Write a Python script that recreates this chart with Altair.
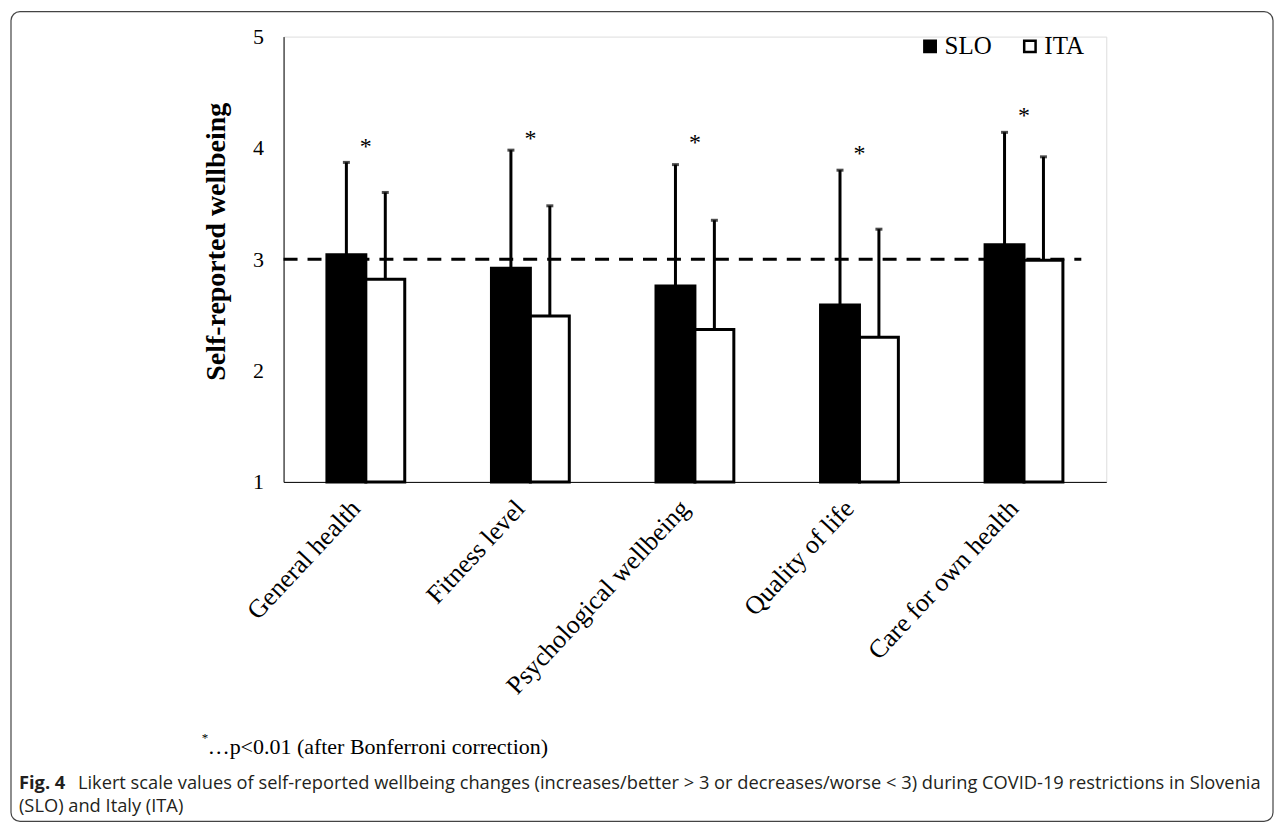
import altair as alt
import pandas as pd

categories = ["General health", "Fitness level", "Psychological wellbeing", "Quality of life", "Care for own health"]
countries = ["SLO", "ITA"]
slo_mean = [3.04, 2.92, 2.76, 2.59, 3.13]
slo_top = [3.87, 3.98, 3.85, 3.80, 4.14]
ita_mean = [2.82, 2.49, 2.37, 2.30, 2.99]
ita_top = [3.60, 3.48, 3.35, 3.27, 3.92]
star_pos = [4.06, 4.13, 4.10, 4.00, 4.34]
y_ticks = [1, 2, 3, 4, 5]

rows = []
for i, c in enumerate(categories):
    rows.append({"category": c, "country": "SLO", "value": slo_mean[i], "top": slo_top[i]})
    rows.append({"category": c, "country": "ITA", "value": ita_mean[i], "top": ita_top[i]})
df = pd.DataFrame(rows)
stars = pd.DataFrame({"category": categories, "star": star_pos, "label": ["*"] * 5})
one = pd.DataFrame({"k": [0]})

SERIF = "Liberation Serif, Times New Roman, serif"
SANS = "Open Sans, Noto Sans, sans-serif"

xscale = alt.Scale(domain=categories, paddingInner=0.527, paddingOuter=0.2635)
yscale = alt.Scale(domain=[1, 5], nice=False, zero=False)

x_enc = alt.X("category:N", scale=xscale, sort=categories,
              axis=alt.Axis(title=None, labelAngle=-47, labelFont=SERIF, labelFontSize=26,
                            labelColor="black", ticks=False, domainColor="black", domainWidth=1,
                            labelPadding=22, labelOffset=-10, labelLimit=0, grid=False))
xoff = alt.XOffset("country:N", sort=countries, scale=alt.Scale(domain=countries, paddingInner=0, paddingOuter=0))
y_enc = alt.Y("value:Q", scale=yscale,
              axis=alt.Axis(title="Self-reported  wellbeing", values=y_ticks, format="d",
                            labelFont=SERIF, labelFontSize=22, labelColor="black", ticks=False,
                            domainColor="black", domainWidth=1, grid=False, labelPadding=20,
                            titleFont=SERIF, titleFontSize=28, titleFontWeight="bold",
                            titleColor="black", titlePadding=22, titleY=205))

base = alt.Chart(df)

bars = base.mark_bar(stroke="black", strokeWidth=3).encode(
    x=x_enc, xOffset=xoff, y=y_enc, y2=alt.datum(1),
    fill=alt.Fill("country:N", sort=countries,
                  scale=alt.Scale(domain=countries, range=["black", "white"]),
                  legend=alt.Legend(title=None, orient="none", legendX=635, legendY=-3,
                                    direction="horizontal", symbolType="square", symbolSize=130,
                                    symbolStrokeColor="black", symbolStrokeWidth=2.5,
                                    labelFont=SERIF, labelFontSize=25, labelColor="black",
                                    columnPadding=25, labelOffset=2)),
)

err = base.mark_rule(color="black", strokeWidth=3).encode(
    x="category:N", xOffset=xoff, y="value:Q", y2="top:Q")
caps = base.mark_tick(color="black", thickness=3, size=7, orient="horizontal").encode(
    x="category:N", xOffset=xoff, y="top:Q")

dashed = alt.Chart(one).mark_rule(color="black", strokeWidth=3, strokeDash=[14, 10]).encode(
    y=alt.datum(3), x=alt.value(0), x2=alt.value(799))

star_text = alt.Chart(stars).mark_text(font=SERIF, fontSize=24, color="black", baseline="middle", dy=6).encode(
    x="category:N", y="star:Q", text="label:N")

frame = alt.Chart(one).mark_rect(fill=None, stroke="#444444", strokeWidth=1.2, cornerRadius=9).encode(
    x=alt.value(-273), x2=alt.value(991), y=alt.value(-25), y2=alt.value(786))

footnote = alt.Chart(one).mark_text(text="…p<0.01 (after Bonferroni correction)", font=SERIF, fontSize=22,
                                    color="black", align="left", baseline="alphabetic").encode(
    x=alt.value(-76), y=alt.value(719))
foot_star = alt.Chart(one).mark_text(text="*", font=SERIF, fontSize=13, color="black", align="left",
                                     baseline="alphabetic").encode(x=alt.value(-82), y=alt.value(707))

cap_bold = alt.Chart(one).mark_text(text="Fig. 4", font=SANS, fontSize=18.3, fontWeight="bold", color="#231f20",
                                    align="left", baseline="alphabetic").encode(x=alt.value(-265), y=alt.value(754))
cap1 = alt.Chart(one).mark_text(
    text="Likert scale values of self-reported wellbeing changes (increases/better > 3 or decreases/worse < 3) during COVID-19 restrictions in Slovenia",
    font=SANS, fontSize=18.3, color="#231f20", align="left", baseline="alphabetic").encode(
    x=alt.value(-206), y=alt.value(754))
cap2 = alt.Chart(one).mark_text(text="(SLO) and Italy (ITA)", font=SANS, fontSize=18.3, color="#231f20",
                                align="left", baseline="alphabetic").encode(x=alt.value(-265), y=alt.value(777))

chart = alt.layer(frame, bars, err, caps, dashed, star_text, footnote, foot_star, cap_bold, cap1, cap2).properties(
    width=824, height=446, padding={"left": 2, "top": 2, "right": 2, "bottom": 2}
).configure_view(stroke=None).configure(background="white")

chart.save("out.html", embed_options={"renderer": "svg", "actions": False})
